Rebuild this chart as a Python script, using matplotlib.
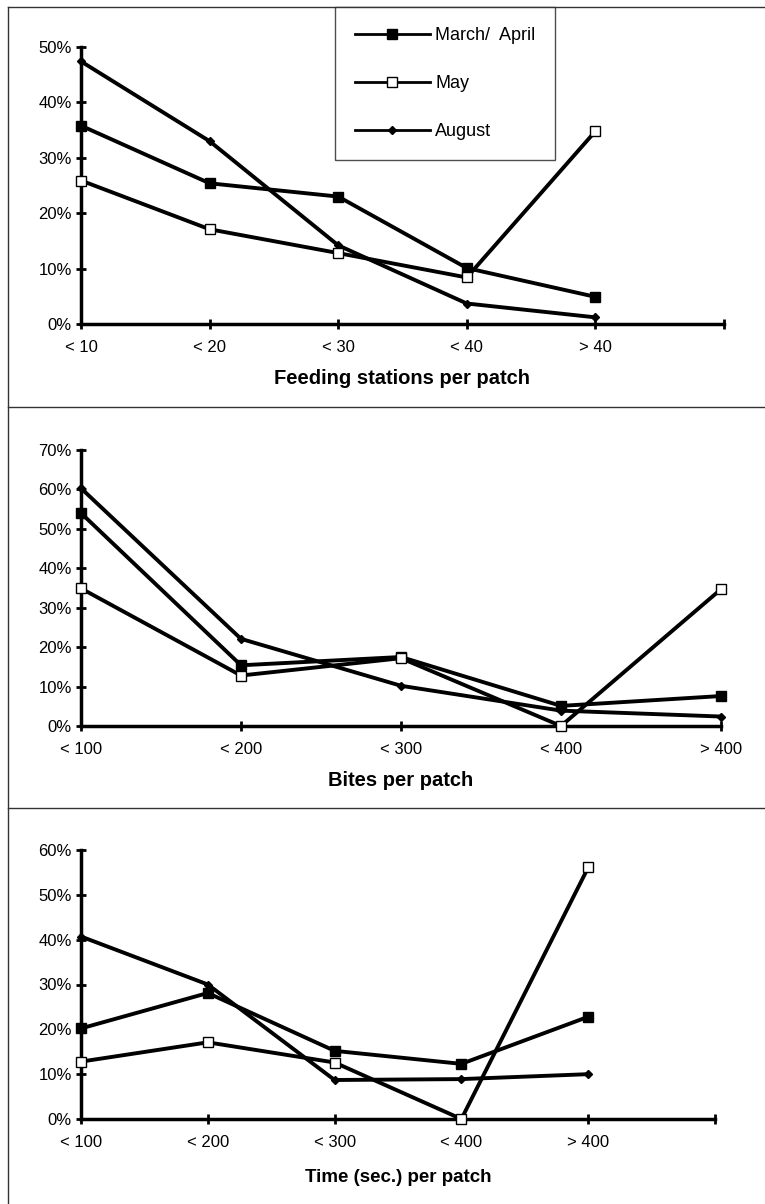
import matplotlib.pyplot as plt
from matplotlib.lines import Line2D
from matplotlib.ticker import PercentFormatter

plt.rcParams['font.family'] = ['Liberation Sans', 'DejaVu Sans']

# feeding stations per patch
feed_cats = ['< 10', '< 20', '< 30', '< 40', '> 40']
feed_march = [0.358, 0.254, 0.230, 0.101, 0.049]
feed_may = [0.259, 0.171, 0.128, 0.084, 0.348]
feed_aug = [0.474, 0.330, 0.142, 0.037, 0.012]

# bites per patch
bite_cats = ['< 100', '< 200', '< 300', '< 400', '> 400']
bite_march = [0.540, 0.154, 0.175, 0.051, 0.076]
bite_may = [0.349, 0.128, 0.172, 0.0, 0.347]
bite_aug = [0.603, 0.221, 0.102, 0.039, 0.024]

# time (sec.) per patch
time_cats = ['< 100', '< 200', '< 300', '< 400', '> 400']
time_march = [0.202, 0.281, 0.152, 0.123, 0.228]
time_may = [0.128, 0.171, 0.126, 0.0, 0.561]
time_aug = [0.407, 0.300, 0.087, 0.089, 0.100]

series_names = ['March/  April', 'May', 'August']

W, H = 765, 1204
fig = plt.figure(figsize=(W / 100, H / 100), dpi=100)


def box(left, right, zero_y, top_y):
    # pixel coords -> figure fraction
    return [left / W, 1 - zero_y / H, (right - left) / W, (zero_y - top_y) / H]


def panel(rect, cats, march, may, aug, ymax, nslots, xlabel, labelpad):
    ax = fig.add_axes(rect)
    x = range(len(cats))
    ax.plot(x, march, color='k', lw=2.8, marker='s', ms=6.5, mfc='k', mec='k',
            clip_on=False, zorder=3)
    ax.plot(x, may, color='k', lw=2.8, marker='s', ms=7.5, mfc='white', mec='k',
            mew=1, clip_on=False, zorder=4)
    ax.plot(x, aug, color='k', lw=2.8, marker='D', ms=4.5, mfc='k', mec='k',
            clip_on=False, zorder=3)
    ax.set_xlim(0, nslots)
    ax.set_ylim(0, ymax)
    ax.set_xticks(range(nslots + 1))
    ax.set_xticklabels(cats + [''] * (nslots + 1 - len(cats)))
    ax.set_yticks([i / 10 for i in range(int(round(ymax * 10)) + 1)])
    ax.yaxis.set_major_formatter(PercentFormatter(1.0, decimals=0))
    for s in ['top', 'right']:
        ax.spines[s].set_visible(False)
    for s in ['left', 'bottom']:
        ax.spines[s].set_linewidth(2.5)
    ax.tick_params(direction='inout', length=7, width=2, labelsize=12)
    ax.tick_params(axis='x', pad=8)
    ax.tick_params(axis='y', pad=3)
    ax.set_xlabel(xlabel, fontsize=14.5, fontweight='bold', labelpad=labelpad)
    return ax


ax1 = panel(box(81, 724, 324, 47), feed_cats, feed_march, feed_may, feed_aug,
            0.5, 5, 'Feeding stations per patch', 10)
ax2 = panel(box(81, 721, 726, 450), bite_cats, bite_march, bite_may, bite_aug,
            0.7, 4, 'Bites per patch', 10)
ax3 = panel(box(81, 715, 1119, 850), time_cats, time_march, time_may, time_aug,
            0.6, 5, 'Time (sec.) per patch', 14)
ax3.xaxis.label.set_fontsize(13.5)

handles = ax1.get_lines()
leg = fig.legend(handles, series_names, loc='upper left',
                 bbox_to_anchor=(335 / W, 1 - 7 / H), fontsize=13,
                 frameon=True, fancybox=False, edgecolor='#222222',
                 handlelength=4.15, handletextpad=0.3, labelspacing=1.72,
                 borderpad=1.1, borderaxespad=0)
leg.get_frame().set_linewidth(1)
for h in leg.legend_handles:
    h.set_linewidth(2)

# outer border and panel separators
for (x0, x1), (y0, y1) in [((8, W), (7, 7)), ((8, 8), (7, H)),
                           ((8, W), (407, 407)), ((8, W), (808, 808))]:
    fig.add_artist(Line2D([x0 / W, x1 / W], [1 - y0 / H, 1 - y1 / H],
                          color='#333333', lw=1, transform=fig.transFigure))

fig.savefig('out.png', dpi=100)
